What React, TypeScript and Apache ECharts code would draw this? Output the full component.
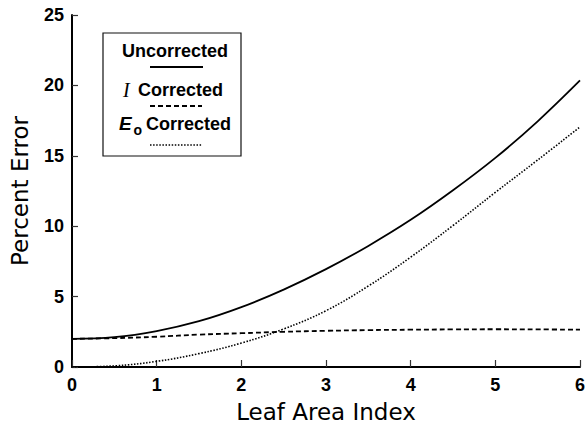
import React, { useEffect, useRef } from "react";
import * as echarts from "echarts";

const leafAreaIndex = [0, 0.5, 1, 1.5, 2, 2.5, 3, 3.5, 4, 4.5, 5, 5.5, 6];
const uncorrected = [2.0, 2.12, 2.55, 3.25, 4.25, 5.5, 6.95, 8.6, 10.45, 12.55, 14.85, 17.45, 20.35];
const iCorrected = [2.0, 2.05, 2.15, 2.3, 2.4, 2.5, 2.57, 2.62, 2.65, 2.67, 2.68, 2.67, 2.65];
const e0Corrected = [0.0, 0.08, 0.4, 0.95, 1.7, 2.7, 4.0, 5.75, 7.8, 10.05, 12.4, 14.7, 17.05];
const seriesNames = ["Uncorrected", "I Corrected", "E0 Corrected"];
const xTicks = [0, 1, 2, 3, 4, 5, 6];
const yTicks = [0, 5, 10, 15, 20, 25];

const pairs = (ys: number[]) => leafAreaIndex.map((x, i) => [x, ys[i]]);

export default function App() {
  const ref = useRef<HTMLDivElement>(null);
  useEffect(() => {
    if (!ref.current) return;
    const chart = echarts.init(ref.current, undefined, { renderer: "svg" });
    const sans = "Liberation Sans";
    const labelStyle = { color: "#000", fontFamily: sans, fontWeight: "bold" as const, fontSize: 18 };
    const legendText = { fill: "#000", fontFamily: sans, fontWeight: "bold" as const, fontSize: 18 };
    chart.setOption({
      animation: false,
      backgroundColor: "#fff",
      grid: { left: 70, right: 5, top: 15, bottom: 57, containLabel: false },
      xAxis: {
        type: "value",
        min: xTicks[0],
        max: xTicks[xTicks.length - 1],
        interval: 1,
        name: "Leaf Area Index",
        nameLocation: "middle",
        nameGap: 33,
        nameTextStyle: { color: "#000", fontFamily: "DejaVu Sans", fontSize: 23 },
        axisLine: { lineStyle: { color: "#000", width: 2 } },
        axisTick: { inside: true, length: 7, lineStyle: { color: "#333", width: 1.2 } },
        axisLabel: { ...labelStyle, margin: 9 },
        splitLine: { show: false },
      },
      yAxis: {
        type: "value",
        min: yTicks[0],
        max: yTicks[yTicks.length - 1],
        interval: 5,
        name: "Percent Error",
        nameLocation: "middle",
        nameGap: 41,
        nameTextStyle: { color: "#000", fontFamily: "DejaVu Sans", fontSize: 23 },
        axisLine: { show: true, lineStyle: { color: "#000", width: 2 } },
        axisTick: { show: true, inside: true, length: 6, lineStyle: { color: "#333", width: 1.2 } },
        axisLabel: { ...labelStyle, margin: 8 },
        splitLine: { show: false },
      },
      series: [
        {
          name: seriesNames[0],
          type: "line",
          data: pairs(uncorrected),
          smooth: 0.4,
          symbol: "none",
          lineStyle: { color: "#000", width: 1.8, type: "solid" },
        },
        {
          name: seriesNames[1],
          type: "line",
          data: pairs(iCorrected),
          smooth: 0.4,
          symbol: "none",
          lineStyle: { color: "#000", width: 1.8, type: [5, 3] },
        },
        {
          name: seriesNames[2],
          type: "line",
          data: pairs(e0Corrected),
          smooth: 0.4,
          symbol: "none",
          lineStyle: { color: "#000", width: 1.6, type: [1.5, 1.6] },
        },
      ],
      graphic: [
        {
          type: "rect",
          shape: { x: 103, y: 33, width: 138, height: 123 },
          style: { fill: "#fff", stroke: "#111", lineWidth: 1.2 },
          z: 10,
        },
        {
          type: "text",
          x: 175,
          y: 51,
          style: { ...legendText, text: seriesNames[0], align: "center", verticalAlign: "middle" },
          z: 11,
        },
        {
          type: "line",
          shape: { x1: 150, y1: 67, x2: 203, y2: 67 },
          style: { stroke: "#000", lineWidth: 1.8 },
          z: 11,
        },
        {
          type: "text",
          x: 123,
          y: 90,
          style: {
            fill: "#000",
            text: "I",
            fontFamily: "Liberation Serif",
            fontStyle: "italic",
            fontSize: 20,
            align: "left",
            verticalAlign: "middle",
          },
          z: 11,
        },
        {
          type: "text",
          x: 138,
          y: 90,
          style: { ...legendText, text: "Corrected", align: "left", verticalAlign: "middle" },
          z: 11,
        },
        {
          type: "line",
          shape: { x1: 150, y1: 106, x2: 202, y2: 106 },
          style: { stroke: "#000", lineWidth: 1.8, lineDash: [5, 3] },
          z: 11,
        },
        {
          type: "text",
          x: 119,
          y: 123,
          style: {
            ...legendText,
            text: "E",
            fontSize: 19,
            fontStyle: "italic",
            align: "left",
            verticalAlign: "middle",
          },
          z: 11,
        },
        {
          type: "text",
          x: 133.5,
          y: 130,
          style: { ...legendText, text: "o", fontSize: 14, align: "left", verticalAlign: "middle" },
          z: 11,
        },
        {
          type: "text",
          x: 146,
          y: 124,
          style: { ...legendText, text: "Corrected", align: "left", verticalAlign: "middle" },
          z: 11,
        },
        {
          type: "line",
          shape: { x1: 150, y1: 145, x2: 202, y2: 145 },
          style: { stroke: "#000", lineWidth: 1.4, lineDash: [1.5, 1.6] },
          z: 11,
        },
      ],
    });
    return () => chart.dispose();
  }, []);
  return (
    <div
      ref={ref}
      style={{ position: "fixed", left: 0, top: 0, width: 588, height: 428, background: "#fff" }}
    />
  );
}
